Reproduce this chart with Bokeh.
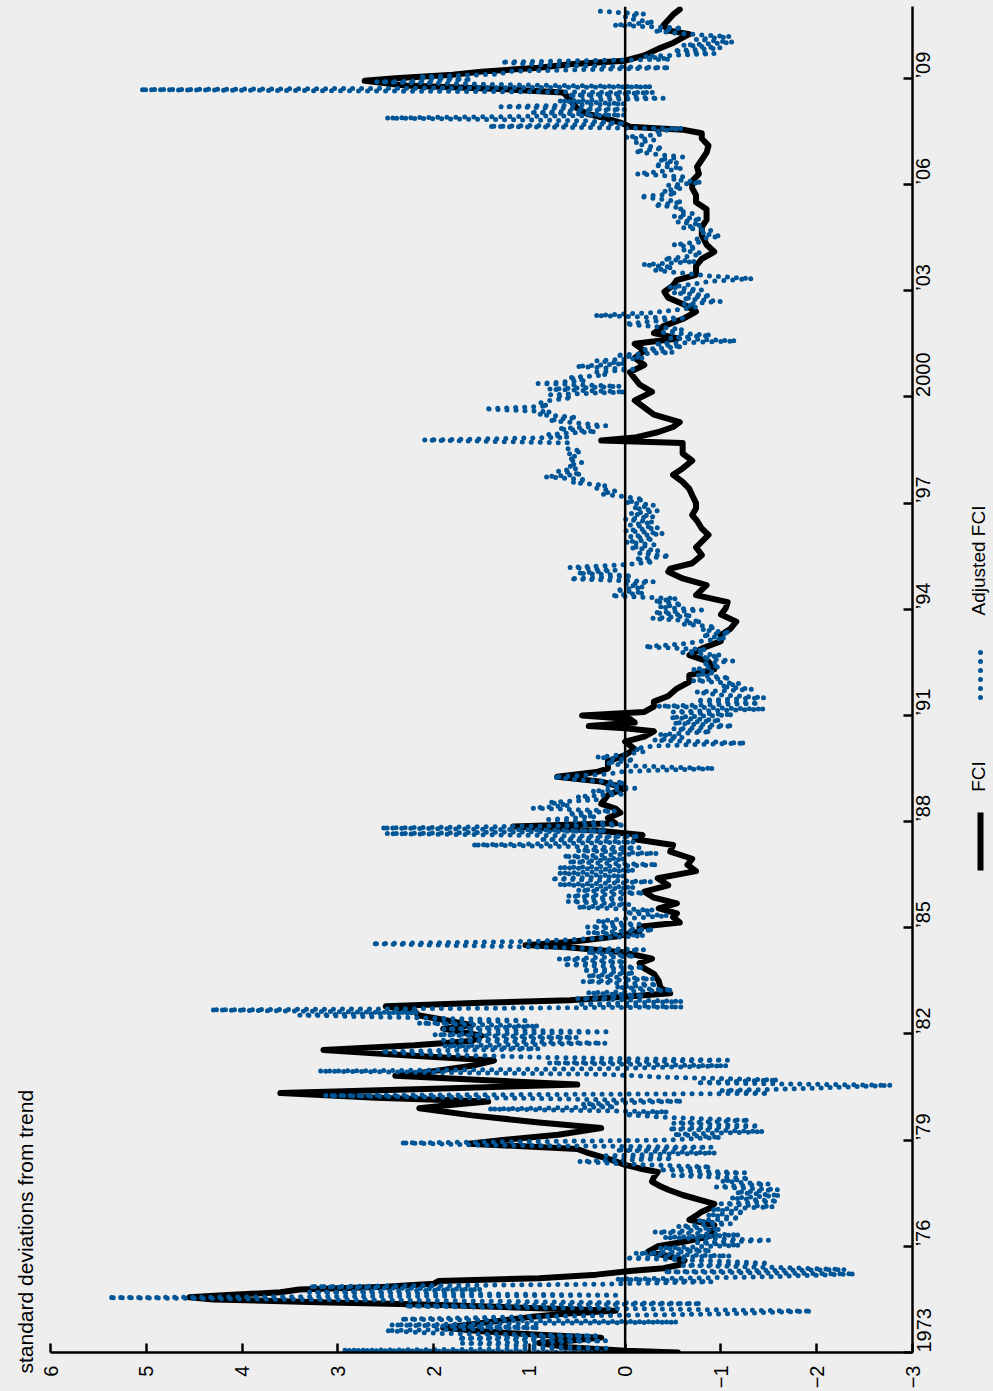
import math
from bokeh.plotting import figure
from bokeh.models import Range1d, FixedTicker, Span, Title
from bokeh.layouts import row
from bokeh.embed import file_html
from bokeh.resources import INLINE
from bokeh.core.properties import value

BG = "#eeeeee"
BLUE = "#005596"
FONT = "Liberation Sans"

# ---------------- data (time in years, value in standard deviations) -------------
fci_points = [
    (1973.00,-0.55),(1973.05,0.0),(1973.15,0.6),(1973.27,0.9),(1973.35,0.5),(1973.42,0.25),
    (1973.50,0.9),(1973.60,1.5),(1973.70,1.9),(1973.80,1.6),(1973.90,1.3),(1974.00,1.0),
    (1974.10,0.6),(1974.18,0.1),(1974.25,0.9),(1974.35,2.0),(1974.42,3.2),(1974.50,4.3),
    (1974.56,4.55),(1974.62,4.2),(1974.70,3.6),(1974.78,3.4),(1974.86,2.5),(1974.94,2.0),
    (1975.02,1.95),(1975.10,0.9),(1975.20,0.3),(1975.30,-0.05),(1975.38,-0.4),(1975.48,-0.57),
    (1975.60,-0.62),(1975.72,-0.45),(1975.85,-0.24),(1976.00,-0.34),(1976.12,-0.6),(1976.23,-0.8),
    (1976.33,-0.93),(1976.45,-0.9),(1976.60,-0.93),(1976.75,-0.67),(1976.88,-0.75),(1976.98,-0.8),
    (1977.10,-0.9),(1977.20,-0.93),(1977.30,-0.8),(1977.45,-0.6),(1977.60,-0.45),(1977.72,-0.35),
    (1977.83,-0.28),(1977.95,-0.3),(1978.10,-0.34),(1978.20,-0.15),(1978.30,0.0),(1978.45,0.15),
    (1978.63,0.38),(1978.75,0.5),(1978.90,1.63),(1979.00,1.3),(1979.15,0.7),(1979.34,0.25),
    (1979.50,0.9),(1979.70,1.6),(1979.90,2.15),(1980.00,1.8),(1980.09,1.43),(1980.20,2.6),
    (1980.33,3.6),(1980.45,2.0),(1980.57,0.5),(1980.70,1.5),(1980.82,2.4),(1980.95,2.0),
    (1981.10,1.6),(1981.25,1.37),(1981.40,2.3),(1981.55,3.15),(1981.68,2.2),(1981.80,1.6),
    (1981.95,1.5),(1982.05,1.7),(1982.15,1.9),(1982.25,1.6),(1982.40,1.9),(1982.53,2.16),
    (1982.65,2.2),(1982.78,2.5),(1982.88,1.5),(1982.95,0.58),(1983.05,0.0),(1983.15,-0.47),
    (1983.30,-0.37),(1983.50,-0.35),(1983.70,-0.3),(1983.85,-0.2),(1984.00,-0.15),(1984.13,-0.28),
    (1984.30,0.0),(1984.45,0.6),(1984.51,1.04),(1984.60,0.58),(1984.75,0.1),(1984.90,-0.15),
    (1985.03,-0.15),(1985.15,-0.57),(1985.30,-0.5),(1985.41,-0.54),(1985.55,-0.35),(1985.69,-0.54),
    (1985.85,-0.3),(1986.02,-0.2),(1986.20,-0.45),(1986.40,-0.34),(1986.60,-0.74),(1986.78,-0.65),
    (1986.95,-0.7),(1987.15,-0.47),(1987.34,-0.5),(1987.50,-0.1),(1987.62,-0.18),(1987.75,0.3),
    (1987.86,1.17),(1987.95,0.1),(1988.10,0.18),(1988.25,0.05),(1988.37,0.1),(1988.50,0.25),
    (1988.75,0.18),(1988.95,0.0),(1989.13,0.25),(1989.27,0.71),(1989.40,0.3),(1989.50,0.18),
    (1989.70,0.18),(1989.88,0.0),(1990.05,-0.1),(1990.26,0.0),(1990.40,-0.2),(1990.55,-0.3),
    (1990.64,0.0),(1990.70,0.38),(1990.80,-0.1),(1990.90,-0.05),(1991.00,0.45),(1991.10,-0.2),
    (1991.25,-0.3),(1991.39,-0.3),(1991.55,-0.45),(1991.76,-0.54),(1991.95,-0.67),(1992.14,-0.67),
    (1992.30,-0.93),(1992.52,-0.87),(1992.70,-0.67),(1992.89,-0.8),(1993.10,-1.0),(1993.27,-1.0),
    (1993.45,-1.1),(1993.65,-1.16),(1993.85,-1.0),(1994.03,-1.05),(1994.20,-1.07),(1994.40,-0.74),
    (1994.55,-0.8),(1994.68,-0.85),(1994.87,-0.6),(1995.06,-0.45),(1995.15,-0.47),(1995.30,-0.7),
    (1995.53,-0.8),(1995.75,-0.74),(1995.91,-0.8),(1996.10,-0.87),(1996.28,-0.8),(1996.50,-0.75),
    (1996.66,-0.7),(1996.85,-0.74),(1997.00,-0.74),(1997.22,-0.7),(1997.40,-0.67),(1997.60,-0.6),
    (1997.80,-0.5),(1997.98,-0.6),(1998.20,-0.7),(1998.40,-0.6),(1998.60,-0.6),(1998.70,-0.6),
    (1998.77,0.25),(1998.85,-0.1),(1999.00,-0.34),(1999.15,-0.5),(1999.29,-0.57),(1999.50,-0.3),
    (1999.70,-0.2),(1999.90,-0.1),(2000.14,-0.28),(2000.35,-0.15),(2000.52,-0.1),(2000.70,-0.05),
    (2000.90,-0.2),(2001.10,-0.1),(2001.30,-0.2),(2001.50,-0.1),(2001.65,-0.55),(2001.80,-0.3),
    (2002.00,-0.4),(2002.20,-0.6),(2002.41,-0.74),(2002.60,-0.62),(2002.80,-0.45),(2002.97,-0.41),
    (2003.15,-0.5),(2003.30,-0.54),(2003.45,-0.74),(2003.70,-0.74),(2003.90,-0.8),(2004.10,-0.93),
    (2004.30,-0.85),(2004.57,-0.8),(2004.80,-0.8),(2005.00,-0.85),(2005.30,-0.85),(2005.50,-0.74),
    (2005.70,-0.74),(2005.90,-0.7),(2006.10,-0.7),(2006.30,-0.77),(2006.50,-0.75),(2006.70,-0.8),
    (2006.90,-0.85),(2007.10,-0.87),(2007.30,-0.8),(2007.45,-0.8),(2007.55,-0.6),(2007.63,-0.05),
    (2007.75,0.05),(2007.87,0.2),(2008.00,0.4),(2008.15,0.5),(2008.30,0.55),(2008.43,0.58),
    (2008.60,0.65),(2008.70,1.3),(2008.80,2.3),(2008.93,2.72),(2009.00,2.4),(2009.10,1.8),
    (2009.19,1.5),(2009.30,0.9),(2009.40,0.58),(2009.50,0.0),(2009.65,-0.2),(2009.84,-0.35),
    (2010.00,-0.5),(2010.15,-0.6),(2010.25,-0.67),(2010.35,-0.45),(2010.50,-0.4),(2010.65,-0.45),
    (2010.80,-0.5),(2010.95,-0.57),
]

adj_points = [
    (1973.00,0.25),(1973.06,2.95),(1973.12,0.2),(1973.19,1.0),(1973.26,1.7),(1973.33,0.2),
    (1973.40,1.75),(1973.47,0.3),(1973.54,1.95),(1973.62,2.5),(1973.70,0.9),(1973.78,2.45),
    (1973.86,-0.55),(1973.94,2.35),(1974.02,0.9),(1974.09,-1.0),(1974.17,-1.95),(1974.24,0.0),
    (1974.31,2.3),(1974.38,-0.8),(1974.46,1.8),(1974.55,5.4),(1974.62,0.1),(1974.70,3.3),
    (1974.78,1.5),(1974.86,3.3),(1974.93,0.25),(1975.00,-0.9),(1975.07,0.1),(1975.14,-1.5),
    (1975.22,-2.4),(1975.28,-0.4),(1975.34,-2.3),(1975.40,-1.65),(1975.46,-0.6),(1975.52,-1.5),
    (1975.60,-0.8),(1975.67,0.0),(1975.73,-1.1),(1975.80,-0.1),(1975.88,-0.9),(1975.95,-0.35),
    (1976.03,-1.2),(1976.10,-0.75),(1976.17,-1.5),(1976.25,-0.4),(1976.32,-1.2),(1976.40,-0.3),
    (1976.48,-1.0),(1976.56,-0.55),(1976.64,-1.1),(1976.72,-0.75),(1976.80,-1.2),(1976.88,-0.85),
    (1976.96,-1.25),(1977.04,-0.9),(1977.12,-1.55),(1977.20,-1.0),(1977.28,-1.6),(1977.36,-1.1),
    (1977.44,-1.62),(1977.52,-1.15),(1977.60,-1.6),(1977.68,-0.95),(1977.76,-1.5),(1977.84,-1.0),
    (1977.92,-1.3),(1978.00,-0.5),(1978.08,-1.25),(1978.16,-0.35),(1978.24,-0.9),(1978.32,-0.05),
    (1978.40,0.48),(1978.48,-0.5),(1978.56,0.2),(1978.64,-0.95),(1978.72,0.1),(1978.80,-0.9),
    (1978.86,1.5),(1978.92,2.35),(1979.00,-0.4),(1979.08,-1.0),(1979.16,-0.5),(1979.24,-1.45),
    (1979.32,-0.45),(1979.40,-1.4),(1979.48,-0.5),(1979.56,-1.3),(1979.64,-0.45),(1979.72,0.0),
    (1979.80,-0.45),(1979.88,1.43),(1979.94,0.1),(1980.02,0.45),(1980.10,-0.6),(1980.18,1.0),
    (1980.26,3.14),(1980.32,-1.5),(1980.40,-1.0),(1980.47,-2.0),(1980.55,-2.78),(1980.62,-0.74),
    (1980.70,-1.6),(1980.78,-0.4),(1980.86,0.2),(1980.95,3.2),(1981.02,0.2),(1981.10,-1.07),
    (1981.18,0.8),(1981.26,-1.07),(1981.34,0.9),(1981.42,2.0),(1981.50,2.55),(1981.58,0.9),
    (1981.66,1.9),(1981.74,0.2),(1981.82,1.9),(1981.90,0.5),(1981.98,2.0),(1982.06,0.2),
    (1982.14,1.9),(1982.22,0.9),(1982.30,2.16),(1982.38,1.0),(1982.46,2.2),(1982.53,3.4),
    (1982.60,2.16),(1982.68,4.33),(1982.76,-0.6),(1982.84,0.5),(1982.92,-0.6),(1983.00,0.5),
    (1983.08,-0.2),(1983.16,0.4),(1983.24,-0.5),(1983.32,0.1),(1983.40,-0.34),(1983.48,0.45),
    (1983.56,-0.3),(1983.64,0.4),(1983.72,-0.1),(1983.80,0.45),(1983.88,-0.2),(1983.96,0.65),
    (1984.04,0.0),(1984.12,0.7),(1984.20,-0.1),(1984.30,0.4),(1984.38,-0.2),(1984.46,1.0),
    (1984.55,2.65),(1984.62,0.9),(1984.70,0.3),(1984.78,-0.2),(1984.86,0.4),(1984.94,-0.3),
    (1985.02,0.4),(1985.10,-0.15),(1985.18,0.3),(1985.26,0.0),(1985.34,-0.45),(1985.42,0.0),
    (1985.50,-0.3),(1985.58,0.5),(1985.66,-0.05),(1985.74,0.6),(1985.82,0.0),(1985.90,0.6),
    (1985.98,-0.2),(1986.06,0.5),(1986.14,-0.1),(1986.22,0.7),(1986.30,-0.28),(1986.38,0.78),
    (1986.46,0.0),(1986.54,0.7),(1986.62,-0.1),(1986.70,0.7),(1986.78,-0.34),(1986.86,0.6),
    (1986.94,0.0),(1987.02,0.65),(1987.10,-0.34),(1987.18,0.5),(1987.26,-0.15),(1987.34,1.6),
    (1987.42,-0.1),(1987.50,0.9),(1987.58,-0.15),(1987.66,2.5),(1987.74,0.2),(1987.82,2.55),
    (1987.90,0.0),(1987.98,0.3),(1988.06,0.8),(1988.14,0.3),(1988.22,0.6),(1988.30,0.1),
    (1988.38,0.97),(1988.46,0.58),(1988.54,0.8),(1988.62,0.3),(1988.70,0.5),(1988.78,0.0),
    (1988.86,0.35),(1988.94,-0.1),(1989.02,0.2),(1989.10,0.0),(1989.18,0.5),(1989.26,0.75),
    (1989.34,0.2),(1989.42,0.0),(1989.50,-0.93),(1989.58,0.0),(1989.66,0.2),(1989.74,-0.1),
    (1989.82,0.3),(1989.90,0.0),(1989.98,-0.2),(1990.06,-0.1),(1990.14,-0.3),(1990.22,-1.26),
    (1990.30,-0.3),(1990.38,-0.6),(1990.46,-0.35),(1990.54,-0.9),(1990.62,-0.5),(1990.70,-1.13),
    (1990.78,-0.5),(1990.86,-1.0),(1990.94,-0.47),(1991.02,-1.13),(1991.10,-0.5),(1991.18,-1.46),
    (1991.26,-0.34),(1991.34,-1.4),(1991.42,-0.74),(1991.50,-1.46),(1991.58,-1.0),(1991.66,-0.74),
    (1991.74,-1.33),(1991.82,-1.0),(1991.90,-1.2),(1991.98,-0.7),(1992.06,-1.1),(1992.14,-0.74),
    (1992.22,-0.95),(1992.30,-0.7),(1992.38,-1.0),(1992.46,-0.8),(1992.54,-1.13),(1992.62,-0.8),
    (1992.70,-1.0),(1992.78,-0.6),(1992.86,-0.85),(1992.94,-0.2),(1993.02,-0.6),(1993.10,-0.8),
    (1993.18,-1.05),(1993.26,-0.8),(1993.34,-1.1),(1993.42,-0.8),(1993.50,-0.95),(1993.58,-0.6),
    (1993.66,-0.8),(1993.74,-0.28),(1993.82,-0.7),(1993.90,-0.3),(1993.98,-0.8),(1994.06,-0.35),
    (1994.14,-0.6),(1994.22,-0.3),(1994.30,-0.54),(1994.38,0.15),(1994.46,-0.2),(1994.54,0.1),
    (1994.62,-0.2),(1994.70,0.0),(1994.78,-0.3),(1994.86,0.58),(1994.94,-0.08),(1995.02,0.5),
    (1995.10,0.1),(1995.18,0.58),(1995.26,0.0),(1995.34,-0.3),(1995.42,-0.1),(1995.50,-0.47),
    (1995.58,-0.15),(1995.66,-0.35),(1995.74,-0.05),(1995.82,-0.3),(1995.90,0.0),(1995.98,-0.3),
    (1996.06,-0.05),(1996.14,-0.4),(1996.22,0.0),(1996.30,-0.35),(1996.38,-0.05),(1996.46,-0.3),
    (1996.54,0.0),(1996.62,-0.3),(1996.70,-0.05),(1996.78,-0.34),(1996.86,-0.08),(1996.94,-0.3),
    (1997.02,0.0),(1997.10,-0.2),(1997.18,0.0),(1997.26,0.25),(1997.34,0.1),(1997.42,0.3),
    (1997.50,0.2),(1997.58,0.55),(1997.66,0.4),(1997.74,0.84),(1997.82,0.45),(1997.90,0.7),
    (1997.98,0.5),(1998.06,0.6),(1998.14,0.45),(1998.22,0.6),(1998.30,0.5),(1998.38,0.6),
    (1998.46,0.45),(1998.54,0.6),(1998.62,0.6),(1998.70,0.58),(1998.78,2.1),(1998.86,0.6),
    (1998.94,0.8),(1999.02,0.3),(1999.10,0.7),(1999.18,0.2),(1999.26,0.5),(1999.34,0.8),
    (1999.42,0.5),(1999.50,0.9),(1999.58,0.78),(1999.66,1.47),(1999.74,0.8),(1999.82,0.9),
    (1999.90,0.78),(1999.98,0.55),(2000.06,0.78),(2000.14,0.0),(2000.22,0.8),(2000.30,0.05),
    (2000.38,0.91),(2000.46,0.4),(2000.54,0.6),(2000.62,0.2),(2000.70,0.3),(2000.78,-0.08),
    (2000.86,0.51),(2000.94,0.0),(2001.02,0.3),(2001.10,-0.2),(2001.18,0.1),(2001.26,-0.5),
    (2001.34,-0.2),(2001.42,-0.6),(2001.50,-0.3),(2001.58,-1.16),(2001.66,-0.47),(2001.74,-0.9),
    (2001.82,-0.4),(2001.90,-0.6),(2001.98,-0.34),(2002.06,0.0),(2002.14,-0.3),(2002.22,-0.6),
    (2002.30,0.32),(2002.38,-0.28),(2002.46,-0.55),(2002.54,-0.75),(2002.62,-0.6),(2002.70,-1.0),
    (2002.78,-0.6),(2002.86,-0.9),(2002.94,-0.5),(2003.02,-0.8),(2003.10,-0.45),(2003.18,-0.7),
    (2003.26,-0.87),(2003.34,-1.33),(2003.42,-0.87),(2003.50,-0.6),(2003.58,-0.3),(2003.66,-0.5),
    (2003.74,-0.18),(2003.82,-0.74),(2003.90,-0.4),(2003.98,-0.7),(2004.06,-0.8),(2004.14,-0.6),
    (2004.22,-0.75),(2004.30,-0.5),(2004.38,-0.8),(2004.46,-0.75),(2004.54,-1.0),(2004.62,-0.8),
    (2004.70,-0.9),(2004.78,-0.6),(2004.86,-0.8),(2004.94,-0.55),(2005.02,-0.8),(2005.10,-0.5),
    (2005.18,-0.7),(2005.26,-0.55),(2005.34,-0.6),(2005.42,-0.3),(2005.50,-0.6),(2005.58,-0.4),
    (2005.66,-0.15),(2005.74,-0.54),(2005.82,-0.4),(2005.90,-0.6),(2005.98,-0.45),(2006.06,-0.8),
    (2006.14,-0.5),(2006.22,-0.6),(2006.30,-0.12),(2006.38,-0.4),(2006.46,-0.6),(2006.54,-0.3),
    (2006.62,-0.55),(2006.70,-0.35),(2006.78,-0.6),(2006.86,-0.3),(2006.94,-0.1),(2007.02,-0.4),
    (2007.10,-0.2),(2007.18,-0.1),(2007.26,-0.3),(2007.34,0.0),(2007.42,-0.4),(2007.50,-0.3),
    (2007.58,-0.6),(2007.64,1.43),(2007.72,0.0),(2007.80,0.4),(2007.88,2.5),(2007.96,0.0),
    (2008.04,1.0),(2008.12,0.0),(2008.20,1.3),(2008.28,0.0),(2008.36,0.7),(2008.44,-0.4),
    (2008.52,0.6),(2008.60,-0.3),(2008.68,5.07),(2008.76,-0.28),(2008.82,1.24),(2008.90,2.6),
    (2008.96,1.6),(2009.04,2.16),(2009.12,1.3),(2009.20,1.24),(2009.30,-0.47),(2009.38,0.9),
    (2009.46,1.3),(2009.54,-0.47),(2009.62,-0.2),(2009.70,-0.93),(2009.78,-0.5),(2009.86,-1.0),
    (2009.94,-0.6),(2010.02,-1.13),(2010.10,-0.74),(2010.18,-1.1),(2010.26,-0.6),(2010.34,-0.3),
    (2010.42,-0.6),(2010.50,0.12),(2010.58,-0.3),(2010.66,-0.1),(2010.74,0.0),(2010.82,-0.2),
    (2010.90,0.3),
]

fci_t = [a for a, b in fci_points]
fci_v = [b for a, b in fci_points]
adj_t = [a for a, b in adj_points]
adj_v = [b for a, b in adj_points]

value_ticks = [6, 5, 4, 3, 2, 1, 0, -1, -2, -3]
value_labels = ["6", "5", "4", "3", "2", "1", "0", "\u22121", "\u22122", "\u22123"]
year_ticks = [1973, 1976, 1979, 1982, 1985, 1988, 1991, 1994, 1997, 2000, 2003, 2006, 2009]
year_labels = ["1973", "\u201976", "\u201979", "\u201982", "\u201985", "\u201988", "\u201991",
               "\u201994", "\u201997", "2000", "\u201903", "\u201906", "\u201909"]

title_text = "standard deviations from trend"
legend_names = ["FCI", "Adjusted FCI"]

W, H = 993, 1391
TOP, BOTTOM = 6, 39
MAIN_W = 958

# ---------------- main plot ----------------
p = figure(width=MAIN_W, height=H, x_range=Range1d(6, -3), y_range=Range1d(1973, 2011.03),
           output_backend="svg", toolbar_location=None, y_axis_location="right",
           min_border_left=50, min_border_right=46, min_border_top=TOP, min_border_bottom=BOTTOM,
           background_fill_color=BG, border_fill_color=BG, outline_line_color=None)
p.grid.visible = False

for ax, ticks, labels in ((p.xaxis[0], value_ticks, value_labels), (p.yaxis[0], year_ticks, year_labels)):
    ax.ticker = FixedTicker(ticks=ticks)
    ax.major_label_overrides = {t: l for t, l in zip(ticks, labels)}
    ax.major_label_orientation = math.pi / 2
    ax.axis_line_width = 2.5
    ax.axis_line_color = "black"
    ax.major_tick_line_width = 2.5
    ax.major_tick_line_color = "black"
    ax.major_tick_in = 9
    ax.major_tick_out = 0
    ax.minor_tick_line_color = None
    ax.major_label_text_font = FONT
    ax.major_label_text_font_size = "20px"
    ax.major_label_text_color = "black"
p.xaxis.major_label_standoff = 13
p.yaxis.major_label_standoff = 11

p.add_layout(Span(location=0, dimension="height", line_color="black", line_width=2.5))
p.line(fci_v, fci_t, line_color="black", line_width=6, line_join="round", line_cap="round")
p.line(adj_v, adj_t, line_color=BLUE, line_width=5, line_dash="0 9", line_cap="round")

# vertical title on the left side, starting just below the frame bottom
p.add_layout(Title(text=title_text, align="left", vertical_align="top", offset=-21, standoff=24,
                   text_font=FONT, text_font_size="21px", text_font_style="normal",
                   text_color="black"), "left")

# ---------------- legend strip ----------------
lg = figure(width=W - MAIN_W, height=H, x_range=Range1d(0, W - MAIN_W), y_range=Range1d(BOTTOM, H - TOP),
            x_axis_type=None, y_axis_type=None, output_backend="svg", toolbar_location=None,
            min_border_left=0, min_border_right=0, min_border_top=TOP, min_border_bottom=BOTTOM,
            background_fill_color=BG, border_fill_color=BG, outline_line_color=None)
lg.line([22, 22], [H - 870, H - 812], line_color="black", line_width=6, line_cap="butt")
lg.text(x=[20], y=[H - 776], text=[legend_names[0]], angle=math.pi / 2, text_align="center",
        text_baseline="middle", text_font=value(FONT), text_font_size="19px", text_color="black")
lg.line([22, 22], [H - 697, H - 645], line_color=BLUE, line_width=5, line_dash="0 9", line_cap="round")
lg.text(x=[20], y=[H - 560], text=[legend_names[1]], angle=math.pi / 2, text_align="center",
        text_baseline="middle", text_font=value(FONT), text_font_size="19px", text_color="black")

layout = row(p, lg)
html = file_html(layout, INLINE)
html = html.replace("</head>", "<style>html, body { background-color: #eeeeee; }</style></head>", 1)
open("out.html", "w").write(html)
